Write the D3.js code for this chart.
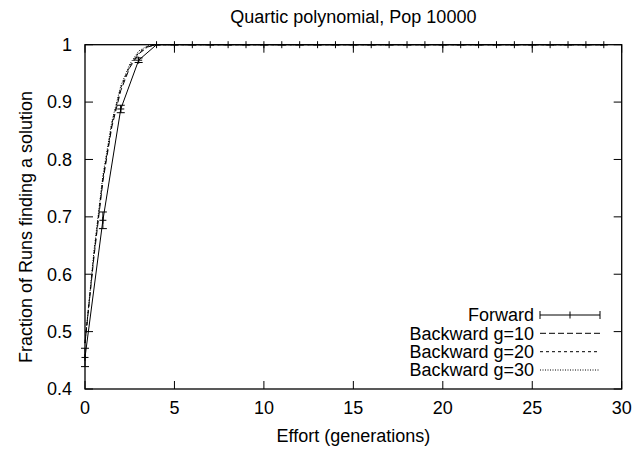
<!DOCTYPE html>
<html>
<head>
<meta charset="utf-8">
<script src="https://cdn.jsdelivr.net/npm/d3@7"></script>
<style>
  body { margin: 0; background: #fff; }
  text { font-family: "Liberation Sans", Arial, sans-serif; font-size: 18px; fill: #000; }
</style>
</head>
<body>
<script>
const width = 634;
const height = 449;

// Forward series (with error bars)
const forwardX = [0, 1, 2, 3, 4, 5, 6, 7, 8, 9, 10, 11, 12, 13, 14, 15, 16, 17, 18, 19, 20, 21, 22, 23, 24, 25, 26, 27, 28, 29];
const forwardY = [0.455, 0.694, 0.888, 0.973, 1, 1, 1, 1, 1, 1, 1, 1, 1, 1, 1, 1, 1, 1, 1, 1, 1, 1, 1, 1, 1, 1, 1, 1, 1, 1];
const forwardErr = [0.016, 0.0145, 0.0065, 0.004, 0, 0, 0, 0, 0, 0, 0, 0, 0, 0, 0, 0, 0, 0, 0, 0, 0, 0, 0, 0, 0, 0, 0, 0, 0, 0];

// Backward series
const backwardX = [0, 0.5, 1, 1.5, 2, 2.5, 3, 3.5, 4, 29];
const backwardG10 = [0.48, 0.630, 0.762, 0.857, 0.920, 0.960, 0.984, 0.996, 1, 1];
const backwardG20 = [0.48, 0.635, 0.767, 0.862, 0.925, 0.963, 0.986, 0.997, 1, 1];
const backwardG30 = [0.48, 0.640, 0.772, 0.866, 0.928, 0.966, 0.989, 0.998, 1, 1];

const xTicks = [0, 5, 10, 15, 20, 25, 30];
const yTicks = [0.4, 0.5, 0.6, 0.7, 0.8, 0.9, 1];

const legendLabels = ["Forward", "Backward g=10", "Backward g=20", "Backward g=30"];
const dashes = [null, "6,3", "3,3", "1,1.5"];

const margin = {top: 44.7, right: 12.3, bottom: 60, left: 85};
const iw = width - margin.left - margin.right;
const ih = height - margin.top - margin.bottom;

const svg = d3.select("body").append("svg")
    .attr("width", width)
    .attr("height", height);

const x = d3.scaleLinear().domain([0, 30]).range([margin.left, margin.left + iw]);
const y = d3.scaleLinear().domain([0.4, 1]).range([margin.top + ih, margin.top]);

const tickLen = 8;

// ticks (inward, mirrored)
const axes = svg.append("g").attr("stroke", "#000").attr("stroke-width", 1);
xTicks.forEach(t => {
    axes.append("line").attr("x1", x(t)).attr("x2", x(t))
        .attr("y1", y(0.4)).attr("y2", y(0.4) - tickLen);
    axes.append("line").attr("x1", x(t)).attr("x2", x(t))
        .attr("y1", y(1)).attr("y2", y(1) + tickLen);
});
yTicks.forEach(t => {
    axes.append("line").attr("x1", x(0)).attr("x2", x(0) + tickLen)
        .attr("y1", y(t)).attr("y2", y(t));
    axes.append("line").attr("x1", x(30)).attr("x2", x(30) - tickLen)
        .attr("y1", y(t)).attr("y2", y(t));
});

svg.selectAll(".xlab")
    .data(xTicks)
    .enter()
    .append("text")
    .attr("x", (d) => x(d))
    .attr("y", 414)
    .attr("text-anchor", "middle")
    .text((d) => d);

svg.selectAll(".ylab")
    .data(yTicks)
    .enter()
    .append("text")
    .attr("x", 72)
    .attr("y", (d) => y(d))
    .attr("dy", "0.35em")
    .attr("text-anchor", "end")
    .text((d) => d3.format("")(d));

svg.append("text")
    .attr("x", x(15))
    .attr("y", 23)
    .attr("text-anchor", "middle")
    .text("Quartic polynomial, Pop 10000");

svg.append("text")
    .attr("x", x(15))
    .attr("y", 442)
    .attr("text-anchor", "middle")
    .text("Effort (generations)");

svg.append("text")
    .attr("transform", "translate(32," + 227 + ") rotate(-90)")
    .attr("text-anchor", "middle")
    .text("Fraction of Runs finding a solution");

const line = d3.line()
    .x((d) => x(d[0]))
    .y((d) => y(d[1]));

// backward lines
[backwardG10, backwardG20, backwardG30].forEach((vals, i) => {
    svg.append("path")
        .attr("d", line(backwardX.map((v, j) => [v, vals[j]])))
        .attr("fill", "none")
        .attr("stroke", "#000")
        .attr("stroke-width", 1)
        .attr("stroke-dasharray", dashes[i + 1]);
});

// forward line
const fwd = forwardX.map((v, j) => [v, forwardY[j], forwardErr[j]]);
svg.append("path")
    .attr("d", line(fwd))
    .attr("fill", "none")
    .attr("stroke", "#000")
    .attr("stroke-width", 1);

const eb = svg.append("g").attr("stroke", "#000").attr("stroke-width", 1);
const cap = 4;
const ps = 3.5;
fwd.forEach(d => {
    const cx = x(d[0]);
    const lo = y(d[1] - d[2]);
    const hi = y(d[1] + d[2]);
    eb.append("line").attr("x1", cx).attr("x2", cx).attr("y1", lo).attr("y2", hi);
    eb.append("line").attr("x1", cx - cap).attr("x2", cx + cap).attr("y1", lo).attr("y2", lo);
    eb.append("line").attr("x1", cx - cap).attr("x2", cx + cap).attr("y1", hi).attr("y2", hi);
    // '+' point
    eb.append("line").attr("x1", cx - ps).attr("x2", cx + ps).attr("y1", y(d[1])).attr("y2", y(d[1]));
    eb.append("line").attr("x1", cx).attr("x2", cx).attr("y1", y(d[1]) - ps).attr("y2", y(d[1]) + ps);
});

// border
svg.append("rect")
    .attr("x", x(0)).attr("y", y(1))
    .attr("width", x(30) - x(0)).attr("height", y(0.4) - y(1))
    .attr("fill", "none")
    .attr("stroke", "#000")
    .attr("stroke-width", 1.3);

// legend
const legRowY = [315, 333.3, 351.7, 370];
const lx0 = 540, lx1 = 600;
legendLabels.forEach((lab, i) => {
    svg.append("text")
        .attr("x", 534)
        .attr("y", legRowY[i])
        .attr("dy", "0.35em")
        .attr("text-anchor", "end")
        .text(lab);
    const g = svg.append("g").attr("stroke", "#000").attr("stroke-width", 1);
    g.append("line")
        .attr("x1", lx0).attr("x2", lx1)
        .attr("y1", legRowY[i]).attr("y2", legRowY[i])
        .attr("stroke-dasharray", dashes[i]);
    if (i === 0) {
        [lx0, lx1].forEach(ex => {
            g.append("line").attr("x1", ex).attr("x2", ex)
                .attr("y1", legRowY[i] - cap).attr("y2", legRowY[i] + cap);
        });
        const mx = (lx0 + lx1) / 2;
        g.append("line").attr("x1", mx).attr("x2", mx)
            .attr("y1", legRowY[i] - ps).attr("y2", legRowY[i] + ps);
    }
});
</script>
</body>
</html>
